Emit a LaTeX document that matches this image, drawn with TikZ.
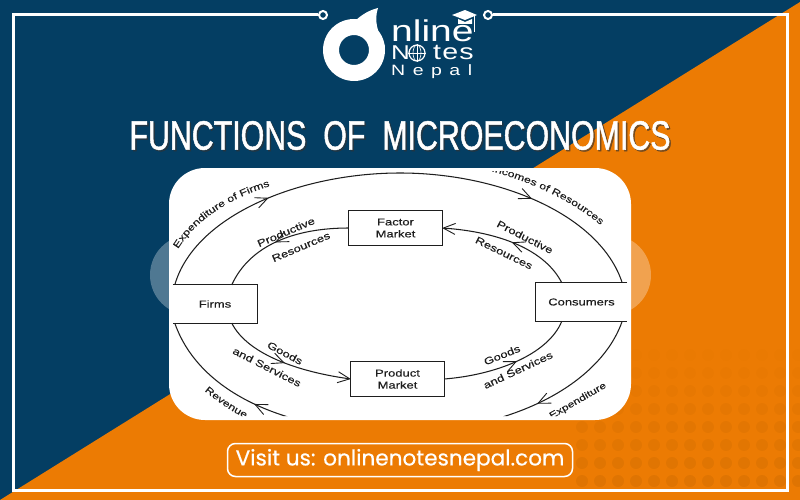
\documentclass[tikz,border=0pt]{standalone}
\usepackage{fontspec}
\usetikzlibrary{arrows.meta, calc, decorations.markings, decorations.text}
\setmainfont{Liberation Sans}
\newfontfamily\diagfont[FakeStretch=1.3,FakeBold=0.25]{Liberation Sans}
\newfontfamily\logofont[FakeStretch=1.3]{Liberation Sans}
\newfontfamily\titlefont[FakeStretch=0.74,WordSpace=2,FakeBold=1.1]{Liberation Sans}
\newfontfamily\visitfont[FakeBold=0.5]{Poppins}
\definecolor{navy}{HTML}{043E63}
\definecolor{orange2}{HTML}{EC7B03}
\definecolor{lineblack}{HTML}{1E1E1E}
\tikzset{
  frameline/.style={line width=3pt, white},
  ringdot/.style={circle, draw=white, line width=2pt, fill=navy, minimum size=8pt, inner sep=0pt},
  logotext/.style={white, inner sep=0pt},
  box/.style={rectangle, minimum width=#1, font=\diagfont\fontsize{10}{12}\selectfont, align=center, inner sep=0pt, text=lineblack},
  boxline/.style={draw=lineblack, line width=1pt},
  flow/.style={draw=lineblack, line width=1.05pt},
  barb/.style={-{Straight Barb[length=12pt, width=11pt, line width=0.9pt]}},
  midbarb/.style={postaction={decorate}, decoration={markings,
    mark=at position #1 with {\arrow{Straight Barb[length=12pt, width=11pt, line width=0.9pt]}}}},
  twobarb/.style 2 args={postaction={decorate}, decoration={markings,
    mark=at position #1 with {\arrow{Straight Barb[length=12pt, width=11pt, line width=0.9pt]}},
    mark=at position #2 with {\arrow{Straight Barb[length=12pt, width=11pt, line width=0.9pt]}}}},
  lab/.style={font=\diagfont\fontsize{10}{12}\selectfont, inner sep=0pt, text=lineblack},
  arclab/.style={decorate, decoration={text along path, text align=center,
    text={|\diagfont\fontsize{9.5}{12}\selectfont\color{lineblack}|#1}}},
}
\begin{document}
\begin{tikzpicture}[x=1pt, y=-1pt]
\useasboundingbox (0,0) rectangle (800,500);
% background
\fill[navy] (0,0) rectangle (800,500);
\fill[orange2] (800,2) -- (800,500) -- (0,500) -- cycle;
\foreach \j in {0,...,7} \foreach \i in {0,...,12}
  \fill[black, opacity={0.055-0.007*\j}] ({582+\i*18},{481-\j*18}) circle (6);

% frame
\node[ringdot] (ringl) at (323,15) {};
\node[ringdot] (ringr) at (488,15) {};
\coordinate (framesw) at (13,490);
\coordinate (framese) at (787,490);
\draw[frameline] (ringl.west) -- (13,15) -- (framesw) -- (framese) -- (787,15) -- (ringr.east);

% logo
\fill[white] (354,22) .. controls (362,14) and (370,10) .. (378,8)
  .. controls (374,20) and (377,32) .. (385,46) -- (370,42) -- cycle;
\fill[white, even odd rule] (354,50) circle (31) (354,50) circle (15);
\node[logotext, anchor=base west, font=\logofont\fontsize{30}{30}\selectfont] (nline) at (391,42) {nline};
\node[logotext, anchor=base west, font=\logofont\fontsize{20}{20}\selectfont] (ncap) at (391,60) {N};
\node[logotext, anchor=base east, font=\logofont\fontsize{22}{22}\addfontfeature{LetterSpace=6}\selectfont] (tes) at (474,60) {tes};
\node[circle, draw=white, line width=1.2pt, minimum size=16pt, inner sep=0pt] (globe) at (417,53) {};
\draw[white, line width=0.6pt] (globe.west) -- (globe.east) (globe.north) -- (globe.south);
\draw[white, line width=0.6pt] (globe.center) ellipse (4 and 8);
\node[logotext, anchor=base west, font=\logofont\fontsize{15}{15}\addfontfeature{LetterSpace=50}\selectfont] (nepal) at (391,76) {Nepal};
\fill[white] (452,15) -- (465,10) -- (477,15) -- (465,20) -- cycle;
\fill[white] (458,19) -- (465,22) -- (472,19) -- (472,24) -- (458,24) -- cycle;
\draw[white, line width=1pt] (474,16) -- (474,32);

% title
\node[font=\titlefont\fontsize{41}{41}\selectfont, text=black!80, opacity=0.6, inner sep=0pt] (titleshade) at (401.5,137) {FUNCTIONS OF MICROECONOMICS};
\node[font=\titlefont\fontsize{41}{41}\selectfont, white, inner sep=0pt] (title) at (400,135.5) {FUNCTIONS OF MICROECONOMICS};

% side discs and panel
\fill[white, opacity=0.3] (190,275) circle (40);
\fill[white, opacity=0.3] (611,275) circle (40);
\fill[white, rounded corners=36pt] (169,168) rectangle (631,420);

% diagram, cut off by the panel
\begin{scope}
\clip[rounded corners=36pt] (169,171) rectangle (631,416);
\node[box=84pt, minimum height=38pt] (firms) at (215,304) {Firms};
\node[box=91pt, minimum height=38pt] (consumers) at (581.5,302) {Consumers};
\node[box=93pt, minimum height=34pt] (factor) at (395.5,228) {Factor\\Market};
\node[box=93pt, minimum height=34pt] (product) at (397.5,379) {Product\\Market};

\draw[boxline] (factor.north west) rectangle (factor.south east);
\draw[boxline] (product.north west) rectangle (product.south east);
\draw[boxline] (firms.north west) -- (firms.north east) -- (firms.south east) -- (firms.south west);
\draw[boxline] (consumers.north east) -- (consumers.north west) -- (consumers.south west) -- (consumers.south east);

% outer loop
\draw[flow, twobarb={0.25}{0.76}] ($(firms.north west)+(2,0)$) .. controls (195,215) and (300,173) .. (400,173)
  .. controls (500,173) and (600,215) .. ($(consumers.north east)+(-5,0)$);
\draw[flow, twobarb={0.23}{0.78}] ($(consumers.south east)+(-5,0)$) .. controls (600,385) and (510,432) .. (398,432)
  .. controls (290,432) and (200,395) .. ($(firms.south west)+(2,0)$);

% inner loop
\draw[flow, midbarb=0.55] (factor.west) .. controls (295,228) and (250,245) .. ($(firms.north west)+(59,0)$);
\draw[flow, barb, midbarb=0.48] ($(consumers.north west)+(26,0)$) .. controls (545,250) and (500,232) .. (factor.east);
\draw[flow, barb, midbarb=0.5] ($(firms.south west)+(59,0)$) .. controls (248,355) and (300,372) .. (product.west);
\draw[flow, midbarb=0.55] (product.east) .. controls (495,375) and (548,355) .. ($(consumers.south west)+(26,0)$);

% labels on the loops
\path[arclab={Expenditure of Firms}] (178,249) .. controls (195,222) and (225,200) .. (270,186);
\path[arclab={Incomes of Resources}] (487,170) .. controls (525,180) and (570,198) .. (604,228);
\path[arclab={Revenue of}] (201,388) .. controls (215,400) and (235,415) .. (262,426);
\node[lab, rotate=23] (proda) at (286,232) {Productive};
\node[lab, rotate=23] (resa) at (301,247) {Resources};
\node[lab, rotate=-27] (prodb) at (525,237) {Productive};
\node[lab, rotate=-26] (resb) at (504,253) {Resources};
\node[lab, rotate=-28] (gooda) at (285,353) {Goods};
\node[lab, rotate=-27] (serva) at (267,367) {and Services};
\node[lab, rotate=22] (goodb) at (502,355) {Goods};
\node[lab, rotate=25] (servb) at (518,370) {and Services};
\node[lab, rotate=30, font=\diagfont\fontsize{9.2}{12}\selectfont] (expd) at (578,401) {Expenditure};
\end{scope}

% link
\node[draw=white, line width=1.5pt, rounded corners=8pt, minimum width=345pt, minimum height=33pt, inner sep=0pt,
  white, font=\visitfont\fontsize{21.6}{23}\selectfont] (visit) at (400,460) {Visit us: onlinenotesnepal.com};
\end{tikzpicture}
\end{document}
